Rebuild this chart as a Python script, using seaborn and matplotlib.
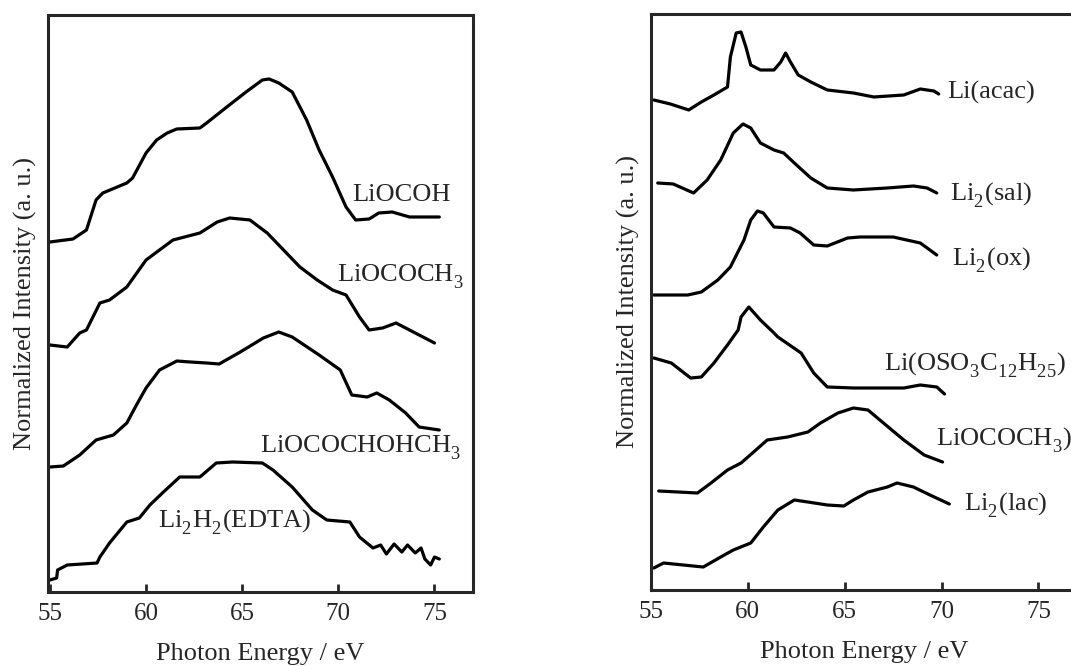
import numpy as np
import pandas as pd
import seaborn as sns
import matplotlib.pyplot as plt
import matplotlib._mathtext as mathtext_internal

# ---- left panel: energies (eV) and intensities (a.u.) ----
lioocoh_x = [55.0, 56.2, 56.9, 57.4, 57.75, 59.0, 59.3, 60.0, 60.55, 61.1, 61.6, 62.8, 63.15, 64.2, 65.2,
             66.05, 66.4, 66.9, 67.6, 68.35, 69.0, 69.7, 70.4, 70.9, 71.6, 72.1, 72.8, 73.7, 75.25]
lioocoh_y = [350, 353, 362, 392, 399, 409, 414, 439, 452, 459, 463, 464, 469, 485, 500,
             512, 513, 509, 500, 472, 442, 415, 385, 372, 373, 379, 380, 375, 375]

liac_x = [55.0, 55.9, 56.55, 56.9, 57.6, 58.1, 59.0, 60.0, 61.4, 62.8, 63.7, 64.35, 65.4, 66.3, 67.3,
          68.0, 68.9, 69.7, 70.4, 71.1, 71.6, 72.3, 73.0, 73.7, 74.2, 75.0]
liac_y = [247, 245, 259, 262, 289, 292, 305, 332, 352, 359, 370, 374, 372, 359, 339,
          325, 312, 302, 297, 275, 262, 264, 269, 262, 257, 249]

lilac_x = [55.0, 55.7, 56.55, 57.4, 58.3, 59.0, 59.5, 60.0, 60.7, 61.6, 62.3, 63.15, 63.8, 64.9, 66.1,
           66.9, 67.6, 69.0, 70.1, 70.7, 71.5, 72.0, 72.65, 73.5, 74.2, 75.25]
lilac_y = [125, 126, 137, 152, 157, 169, 187, 204, 222, 231, 230, 229, 228, 240, 254,
           260, 255, 237, 222, 197, 195, 199, 192, 179, 165, 162]

edta_x = [55.0, 55.35, 55.4, 55.9, 57.45, 57.6, 58.1, 59.0, 59.65, 60.2, 60.85, 61.75, 62.8, 63.65, 64.5,
          66.05, 66.6, 67.6, 68.65, 69.4, 70.6, 71.1, 71.8, 72.2, 72.5, 72.9, 73.3, 73.6, 74.0,
          74.3, 74.5, 74.8, 75.0, 75.25]
edta_y = [12, 14, 22, 27, 29, 35, 49, 70, 74, 87, 99, 115, 115, 129, 130,
          129, 122, 105, 82, 72, 70, 55, 44, 47, 38, 48, 40, 47, 39,
          44, 33, 27, 35, 33]

left_names = ['LiOCOH', r'LiOCOCH$_\mathregular{3}$', r'LiOCOCHOHCH$_\mathregular{3}$',
              r'Li$_\mathregular{2}$H$_\mathregular{2}$(EDTA)']

# ---- right panel ----
acac_x = [55.15, 56.0, 56.95, 57.6, 58.25, 58.95, 59.1, 59.4, 59.65, 59.9, 60.15, 60.65, 61.35, 61.7,
          61.95, 62.2, 62.6, 63.25, 64.1, 65.45, 66.5, 68.05, 68.9, 69.6, 69.85]
acac_y = [490, 486, 480, 488, 495, 503, 533, 557, 558, 543, 525, 520, 520, 528,
          537, 528, 515, 508, 500, 497, 493, 495, 501, 499, 496]

sal_x = [55.35, 56.15, 57.2, 57.9, 58.6, 59.25, 59.75, 60.15, 60.65, 61.35, 61.85, 62.4, 63.25, 64.1,
         65.45, 67.2, 68.55, 69.25, 69.75]
sal_y = [407, 406, 397, 410, 430, 457, 466, 462, 447, 440, 437, 427, 412, 402,
         400, 402, 404, 402, 397]

ox_x = [55.15, 56.9, 57.6, 58.45, 59.1, 59.8, 60.15, 60.5, 60.8, 61.35, 62.2, 62.7, 63.4, 64.1,
        65.15, 65.8, 67.5, 68.9, 69.75]
ox_y = [295, 295, 298, 310, 323, 350, 370, 379, 377, 363, 362, 357, 345, 344,
        352, 353, 353, 347, 335]

sds_x = [55.15, 56.05, 57.05, 57.6, 58.25, 58.95, 59.5, 59.65, 60.05, 60.65, 61.35, 61.55, 62.75, 63.4,
         64.1, 65.45, 68.05, 68.9, 69.75, 70.15]
sds_y = [232, 227, 212, 213, 227, 245, 260, 273, 283, 270, 257, 253, 237, 217,
         203, 202, 202, 205, 203, 196]

ac2_x = [55.4, 57.4, 58.1, 58.95, 59.65, 60.3, 61.0, 62.05, 63.1, 63.75, 64.65, 65.45, 66.2, 67.0,
         68.05, 69.1, 70.05]
ac2_y = [99, 97, 107, 120, 127, 138, 150, 153, 158, 167, 177, 182, 180, 167,
         150, 135, 128]

lac2_x = [55.15, 55.65, 57.7, 58.6, 59.25, 60.15, 60.8, 61.55, 62.4, 63.1, 64.1, 64.95, 65.45, 66.2,
          67.2, 67.7, 68.55, 69.4, 70.4]
lac2_y = [22, 27, 23, 33, 40, 47, 63, 80, 90, 88, 85, 84, 90, 98,
          103, 107, 103, 95, 86]

right_names = ['Li(acac)', r'Li$_\mathregular{2}$(sal)', r'Li$_\mathregular{2}$(ox)',
               r'Li(OSO$_\mathregular{3}$C$_\mathregular{12}$H$_\mathregular{25}$)',
               r'LiOCOCH$_\mathregular{3}$)', r'Li$_\mathregular{2}$(lac)']

sns.set_style('ticks')
plt.rcParams['font.family'] = ['Liberation Serif', 'DejaVu Serif']
plt.rcParams['mathtext.fontset'] = 'stix'
# drop subscripts a bit further, like the original figure
mathtext_internal.STIXFontConstants.sub1 = 0.6
mathtext_internal.STIXFontConstants.subdrop = 0.6

fig = plt.figure(figsize=(10.71, 6.66), dpi=100)
ax1 = fig.add_axes([0.0448, 0.1111, 0.3968, 0.8664])
ax2 = fig.add_axes([0.6078, 0.1141, 0.398, 0.8649])

left = [(lioocoh_x, lioocoh_y), (liac_x, liac_y), (lilac_x, lilac_y), (edta_x, edta_y)]
right = [(acac_x, acac_y), (sal_x, sal_y), (ox_x, ox_y), (sds_x, sds_y), (ac2_x, ac2_y), (lac2_x, lac2_y)]

for (x, y) in left:
    sns.lineplot(x=x, y=y, ax=ax1, color='black', lw=2.3, estimator=None, sort=False)
for (x, y) in right:
    sns.lineplot(x=x, y=y, ax=ax2, color='black', lw=2.3, estimator=None, sort=False)

# label positions (eV, a.u.), alignment
left_pos = [(70.7, 397, 'left'), (69.95, 315, 'left'), (65.9, 144, 'left'), (60.6, 70, 'left')]
right_pos = [(70.3, 498, 'left'), (70.45, 395, 'left'), (70.55, 330, 'left'), (76.45, 225, 'right'),
             (69.7, 150, 'left'), (71.15, 85, 'left')]
for name, (px, py, ha) in zip(left_names, left_pos):
    ax1.text(px, py, name, fontsize=19, ha=ha, va='center')
for name, (px, py, ha) in zip(right_names, right_pos):
    ax2.text(px, py, name, fontsize=19, ha=ha, va='center')

ax1.set_xlim(54.9, 77.0)
ax1.set_ylim(0, 577)
ax2.set_xlim(55.0, 77.0)
ax2.set_ylim(0, 576)

for ax in (ax1, ax2):
    ax.set_xticks([55, 60, 65, 70, 75])
    ax.set_yticks([])
    ax.tick_params(axis='x', direction='in', length=6, width=2, labelsize=18, pad=8)
    for s in ax.spines.values():
        s.set_linewidth(2.2)
        s.set_visible(True)
    ax.set_xlabel('Photon Energy / eV', fontsize=19, labelpad=13)
    ax.set_ylabel('Normalized Intensity (a. u.)', fontsize=19, labelpad=8)

fig.savefig('out.png', dpi=100)
